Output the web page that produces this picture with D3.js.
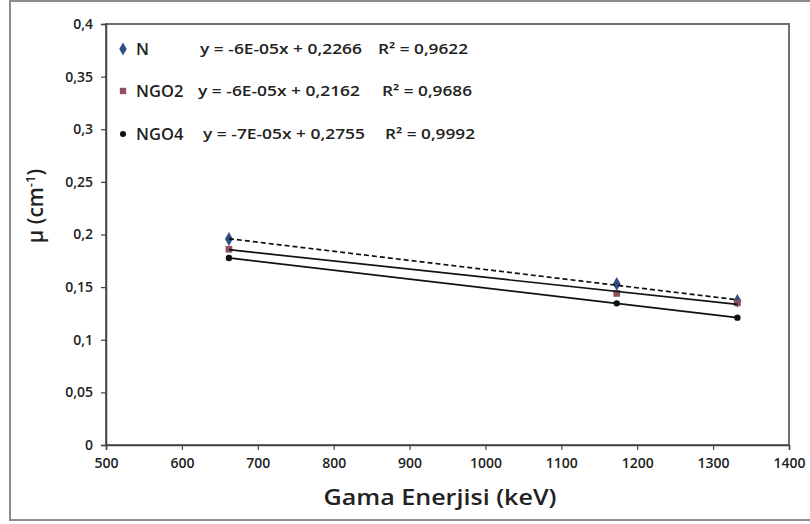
<!DOCTYPE html>
<html>
<head>
<meta charset="utf-8">
<script src="https://cdn.jsdelivr.net/npm/d3@7"></script>
<style>
  body { margin: 0; background: #fff; }
  text { font-family: "Open Sans", "DejaVu Sans", sans-serif; fill: #222; }
</style>
</head>
<body>
<div id="chart"></div>
<script>
// data
const energies = [662, 1173, 1332];
const seriesNames = ["N", "NGO2", "NGO4"];
const valuesN = [0.1957, 0.153, 0.137];
const valuesNGO2 = [0.186, 0.144, 0.135];
const valuesNGO4 = [0.1777, 0.1346, 0.121];
const equations = ["y = -6E-05x + 0,2266", "y = -6E-05x + 0,2162", "y = -7E-05x + 0,2755"];
const rSquared = ["R² = 0,9622", "R² = 0,9686", "R² = 0,9992"];
const xTicks = [500, 600, 700, 800, 900, 1000, 1100, 1200, 1300, 1400];
const yTicks = [0, 0.05, 0.1, 0.15, 0.2, 0.25, 0.3, 0.35, 0.4];

const width = 810, height = 524;
const margin = {top: 24, right: 21, bottom: 79, left: 106};

const svg = d3.select("#chart").append("svg")
    .attr("width", width)
    .attr("height", height);

// chart area border
svg.append("rect")
    .attr("x", 10).attr("y", 1)
    .attr("width", 810).attr("height", 519)
    .attr("fill", "#fff")
    .attr("stroke", "#8c8c8c")
    .attr("stroke-width", 2);

const x = d3.scaleLinear().domain([500, 1400]).range([margin.left, width - margin.right]);
const y = d3.scaleLinear().domain([0, 0.4]).range([height - margin.bottom, margin.top]);

// plot area border
svg.append("rect")
    .attr("x", x(500)).attr("y", y(0.4))
    .attr("width", x(1400) - x(500)).attr("height", y(0) - y(0.4))
    .attr("fill", "none")
    .attr("stroke", "#6f6f6f")
    .attr("stroke-width", 2);

const fmt = d => d3.format("")(d).replace(".", ",");

const xAxis = svg.append("g")
    .attr("transform", `translate(0,${y(0)})`)
    .call(d3.axisBottom(x).tickValues(xTicks).tickSize(5).tickPadding(8).tickFormat(d3.format("")));
const yAxis = svg.append("g")
    .attr("transform", `translate(${x(500)},0)`)
    .call(d3.axisLeft(y).tickValues(yTicks).tickSize(5).tickPadding(8).tickFormat(fmt));

[xAxis, yAxis].forEach(ax => {
    ax.select(".domain").attr("stroke", "#444").attr("stroke-width", 1.5);
    ax.selectAll(".tick line").attr("stroke", "#444").attr("stroke-width", 1.2);
    ax.selectAll(".tick text")
      .style("font-size", "14px")
      .style("font-weight", "600")
      .style("font-family", "'Open Sans', sans-serif")
      .attr("fill", "#222");
});

// axis titles
svg.append("text")
    .attr("x", 440).attr("y", 505)
    .attr("text-anchor", "middle")
    .attr("textLength", 233)
    .attr("lengthAdjust", "spacingAndGlyphs")
    .style("font-size", "22px")
    .style("font-weight", "600")
    .text("Gama Enerjisi (keV)");

const yTitle = svg.append("text")
    .attr("transform", "translate(43,206) rotate(-90)")
    .attr("text-anchor", "middle")
    .style("font-size", "21px")
    .style("font-weight", "600");
yTitle.append("tspan").text("µ (cm");
yTitle.append("tspan").attr("dy", -8).style("font-size", "13px").text("-1");
yTitle.append("tspan").attr("dy", 8).text(")");

// linear fit for trend lines
function fit(xs, ys) {
    const mx = d3.mean(xs), my = d3.mean(ys);
    const b = d3.sum(xs, (v, i) => (v - mx) * (ys[i] - my)) / d3.sum(xs, v => (v - mx) ** 2);
    return {b: b, a: my - b * mx};
}

const series = [
    {name: seriesNames[0], values: valuesN, color: "#2f4f86", shape: d3.symbolDiamond, size: 55, dash: "5,3"},
    {name: seriesNames[1], values: valuesNGO2, color: "#8e5060", shape: d3.symbolSquare, size: 45, dash: null},
    {name: seriesNames[2], values: valuesNGO4, color: "#111", shape: d3.symbolCircle, size: 32, dash: null}
];

// markers first, trend lines drawn over them like Excel
series.forEach(s => {
    svg.append("g").selectAll("path")
        .data(energies.map((e, i) => [e, s.values[i]]))
        .join("path")
        .attr("transform", d => `translate(${x(d[0])},${y(d[1])})`)
        .attr("d", d3.symbol().type(s.shape).size(s.size))
        .attr("fill", s.color);
});

series.forEach(s => {
    const f = fit(energies, s.values);
    const x0 = d3.min(energies), x1 = d3.max(energies);
    svg.append("line")
        .attr("x1", x(x0)).attr("y1", y(f.a + f.b * x0))
        .attr("x2", x(x1)).attr("y2", y(f.a + f.b * x1))
        .attr("stroke", "#111")
        .attr("stroke-width", 1.7)
        .attr("stroke-dasharray", s.dash);
});

// legend with equations
const rowsY = [49, 91, 134];
const eqX = [200, 198, 203];
const r2X = [378, 382, 385];
series.forEach((s, i) => {
    svg.append("path")
        .attr("transform", `translate(123,${rowsY[i]})`)
        .attr("d", d3.symbol().type(s.shape).size(s.size * 0.9))
        .attr("fill", s.color);
    svg.append("text")
        .attr("x", 136).attr("y", rowsY[i] + 6)
        .style("font-size", "16.5px").style("font-weight", "600")
        .text(s.name);
    svg.append("text")
        .attr("x", eqX[i]).attr("y", rowsY[i] + 5)
        .attr("textLength", 162)
        .attr("lengthAdjust", "spacingAndGlyphs")
        .style("font-size", "15px").style("font-weight", "600")
        .text(equations[i]);
    svg.append("text")
        .attr("x", r2X[i]).attr("y", rowsY[i] + 5)
        .attr("textLength", 90)
        .attr("lengthAdjust", "spacingAndGlyphs")
        .style("font-size", "15px").style("font-weight", "600")
        .text(rSquared[i]);
});
</script>
</body>
</html>
